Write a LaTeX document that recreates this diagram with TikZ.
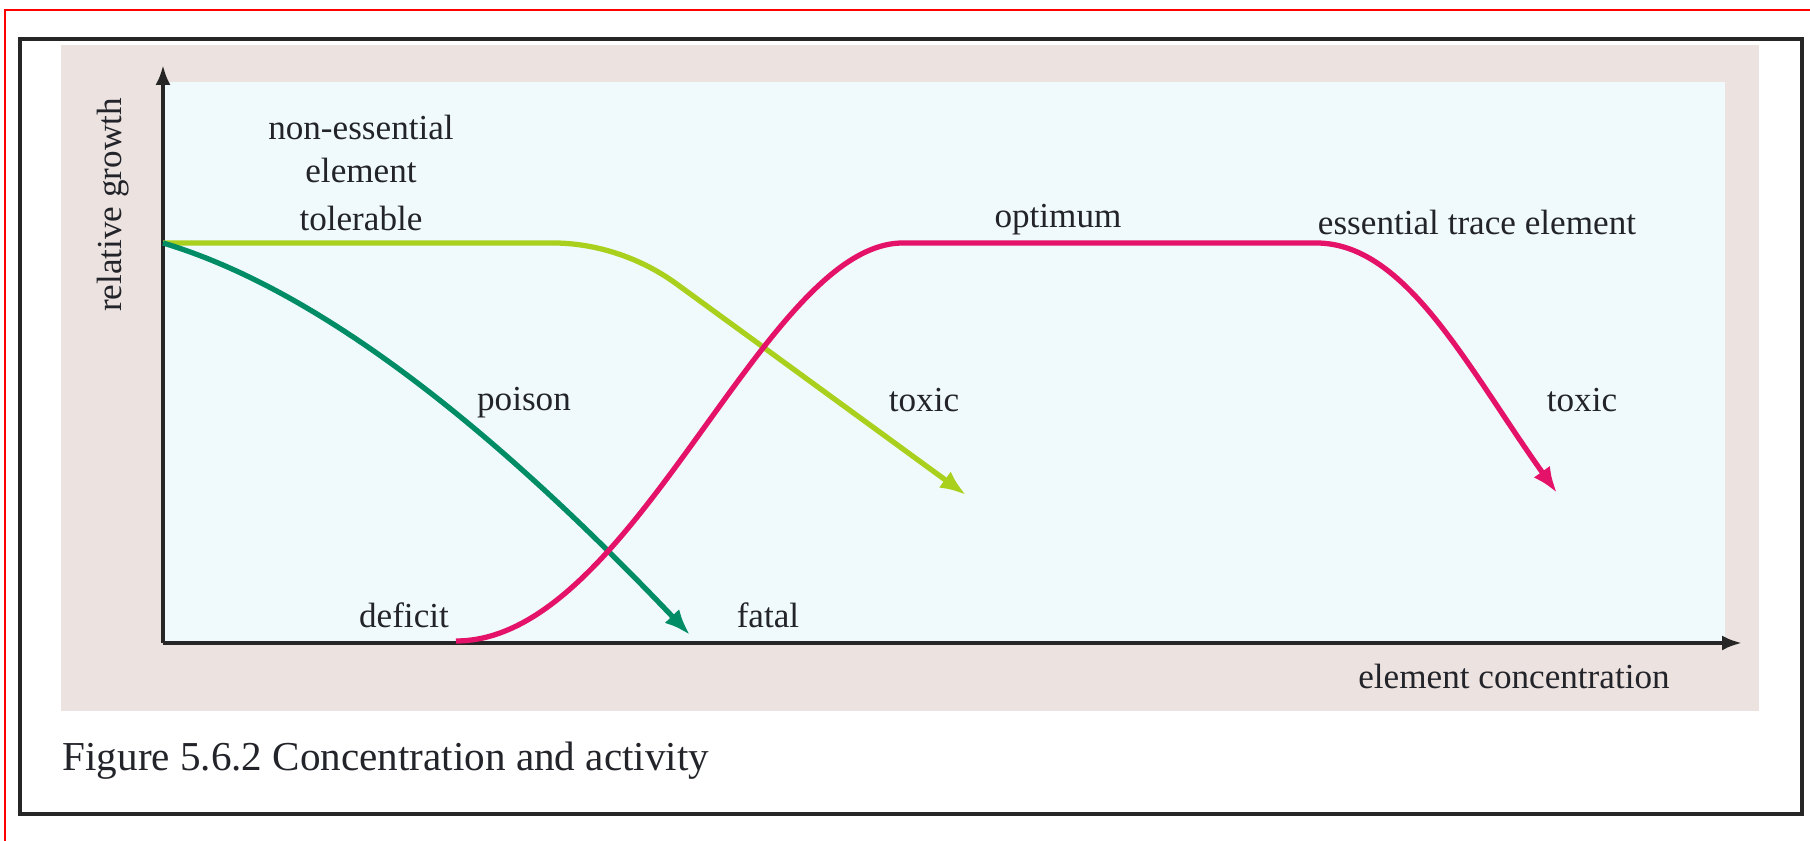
\documentclass[tikz,border=0pt]{standalone}
\usepackage{fontspec}
\setmainfont{Liberation Serif}
\usepackage{xcolor}
\usepackage{tikz}
\usetikzlibrary{arrows.meta}

\definecolor{pagebeige}{RGB}{236,226,224}
\definecolor{plotcyan}{RGB}{240,250,252}
\definecolor{limegreen}{RGB}{168,208,28}
\definecolor{poisongreen}{RGB}{0,140,100}
\definecolor{tracepink}{RGB}{228,18,104}
\definecolor{inkgray}{RGB}{34,36,42}

\tikzset{
    lbl/.style={text=inkgray, font=\fontsize{10}{12}\selectfont, inner sep=1pt},
    curve/.style={line width=1.5pt, -{Latex[length=2.6mm,width=2mm]}},
    axis/.style={line width=1.1pt, black!85, -{Latex[length=2mm,width=1.5mm]}},
}

\begin{document}
\begin{tikzpicture}
    \useasboundingbox (-1.63,-1.98) rectangle (16.47,6.43);
    % Red edge of the cut-out
    \draw[red, line width=0.8pt] (-1.58,-1.98) -- (-1.58,6.33) -- (16.47,6.33);
    % Black frame round the figure
    \draw[line width=1.1pt, black!85] (-1.43,-1.71) rectangle (16.39,6.04);
    % Page and plot area
    \fill[pagebeige] (-1.02,-0.68) rectangle (15.96,5.98);
    \fill[plotcyan] (0,0) rectangle (15.62,5.61);

    % Axes
    \draw[axis] (0,0) -- (0,5.78);
    \draw[axis] (0,0) -- (15.79,0);
    \node[lbl, rotate=90] (growth) at (-0.50,4.38) {relative growth};
    \node[lbl] (conc) at (13.51,-0.33) {element concentration};

    % Non-essential element
    \draw[curve, limegreen] (0,4) -- (3.9,4) .. controls (4.35,4) and (4.8,3.84) .. (5.15,3.58) -- (8.03,1.48);
    % Poison
    \draw[curve, poisongreen] (0,4) .. controls (1.8,3.46) and (3.67,1.76) .. (5.27,0.08);
    % Essential trace element
    \draw[curve, tracepink] (2.93,0.02) .. controls (4.71,0.02) and (6.0,4) .. (7.4,4)
        -- (11.53,4) .. controls (12.43,4) and (13.04,2.76) .. (13.94,1.5);

    % Labels on the curves
    \node[lbl, align=center] (nonessential) at (1.98,4.94) {non-essential\\element};
    \node[lbl] (tolerable) at (1.98,4.25) {tolerable};
    \node[lbl] (poison) at (3.61,2.40) {poison};
    \node[lbl] (deficit) at (2.41,0.28) {deficit};
    \node[lbl] (fatal) at (6.05,0.28) {fatal};
    \node[lbl] (toxicA) at (7.61,2.43) {toxic};
    \node[lbl] (optimum) at (8.95,4.23) {optimum};
    \node[lbl] (trace) at (13.14,4.21) {essential trace element};
    \node[lbl] (toxicB) at (14.19,2.43) {toxic};

    % Caption
    \node[text=inkgray, font=\fontsize{11.7}{14}\selectfont, anchor=west, inner sep=0pt] (caption) at (-1.01,-1.18) {Figure 5.6.2 Concentration and activity};
\end{tikzpicture}
\end{document}
